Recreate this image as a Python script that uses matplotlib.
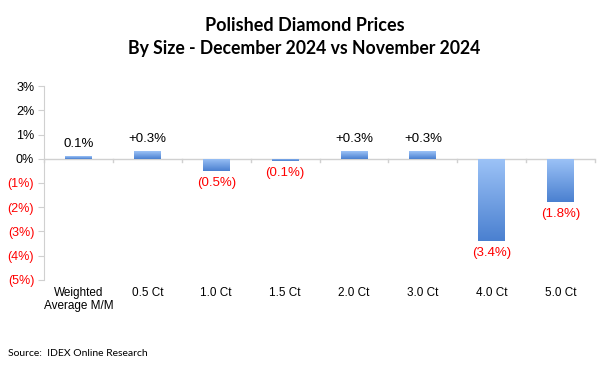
import numpy as np
import matplotlib.pyplot as plt
from matplotlib.colors import LinearSegmentedColormap

categories = ['Weighted\nAverage M/M', '0.5 Ct', '1.0 Ct', '1.5 Ct', '2.0 Ct', '3.0 Ct', '4.0 Ct', '5.0 Ct']
changes = [0.1, 0.3, -0.5, -0.1, 0.3, 0.3, -3.4, -1.8]
labels = ['0.1%', '+0.3%', '(0.5%)', '(0.1%)', '+0.3%', '+0.3%', '(3.4%)', '(1.8%)']
yticks = [3, 2, 1, 0, -1, -2, -3, -4, -5]
ytick_labels = ['3%', '2%', '1%', '0%', '(1%)', '(2%)', '(3%)', '(4%)', '(5%)']

plt.rcParams['font.family'] = ['Liberation Sans', 'DejaVu Sans']

fig = plt.figure(figsize=(6.09, 3.66), dpi=100)
ax = fig.add_axes([0.0722, 0.235, 0.905, 0.53])

x = np.arange(len(categories))
bars = ax.bar(x, changes, width=0.39, color='#6fa0e6', zorder=2)

# vertical gradient in each bar: light at top, darker at bottom
grad = np.linspace(0, 1, 256).reshape(-1, 1)
cmap = LinearSegmentedColormap.from_list('bl', ['#9dc3f7', '#4a80d0'])
for b in bars:
    x0, y0 = b.get_x(), b.get_y()
    w, h = b.get_width(), b.get_height()
    ylo, yhi = min(y0, y0 + h), max(y0, y0 + h)
    im = ax.imshow(grad, cmap=cmap, aspect='auto', extent=[x0, x0 + w, ylo, yhi],
                   origin='upper', zorder=3)
    im.set_clip_path(b)

for xi, v, lab in zip(x, changes, labels):
    if v >= 0:
        ax.text(xi, v + 0.25, lab, ha='center', va='bottom', fontsize=9.5, color='black')
    else:
        ax.text(xi, v - 0.25, lab, ha='center', va='top', fontsize=9.5, color='#ff0000')

ax.set_xlim(-0.5, len(categories) - 0.5)
ax.set_ylim(-5, 3)
ax.set_yticks(yticks)
ax.set_yticklabels(ytick_labels, fontsize=9)
for t, v in zip(ax.get_yticklabels(), yticks):
    t.set_color('#ff0000' if v < 0 else 'black')

ax.set_xticks(x)
ax.set_xticklabels(categories, fontsize=8.5, linespacing=1.15)
ax.tick_params(axis='x', length=0, pad=5)
ax.tick_params(axis='y', length=4, color='#d0d0d0', pad=3)

for s in ['top', 'right', 'bottom']:
    ax.spines[s].set_visible(False)
ax.spines['left'].set_color('#d0d0d0')
ax.spines['left'].set_zorder(0)
ax.axhline(0, color='#d0d0d0', lw=1, zorder=1)

# small category-boundary ticks hanging off the zero line
for xb in np.arange(-0.5, len(categories), 1):
    ax.plot([xb, xb], [0, -0.15], color='#d0d0d0', lw=1, zorder=1, clip_on=False)

fig.text(0.5, 0.93, 'Polished Diamond Prices', ha='center', va='center',
         fontsize=13, fontweight='bold', family=['Lato', 'DejaVu Sans'])
fig.text(0.5, 0.868, 'By Size - December 2024 vs November 2024', ha='center', va='center',
         fontsize=12.7, fontweight='bold', family=['Lato', 'DejaVu Sans'])
fig.text(0.013, 0.035, 'Source:  IDEX Online Research', ha='left', va='center',
         fontsize=7.5, family=['Lato', 'DejaVu Sans'])

fig.savefig('out.png', dpi=100)
